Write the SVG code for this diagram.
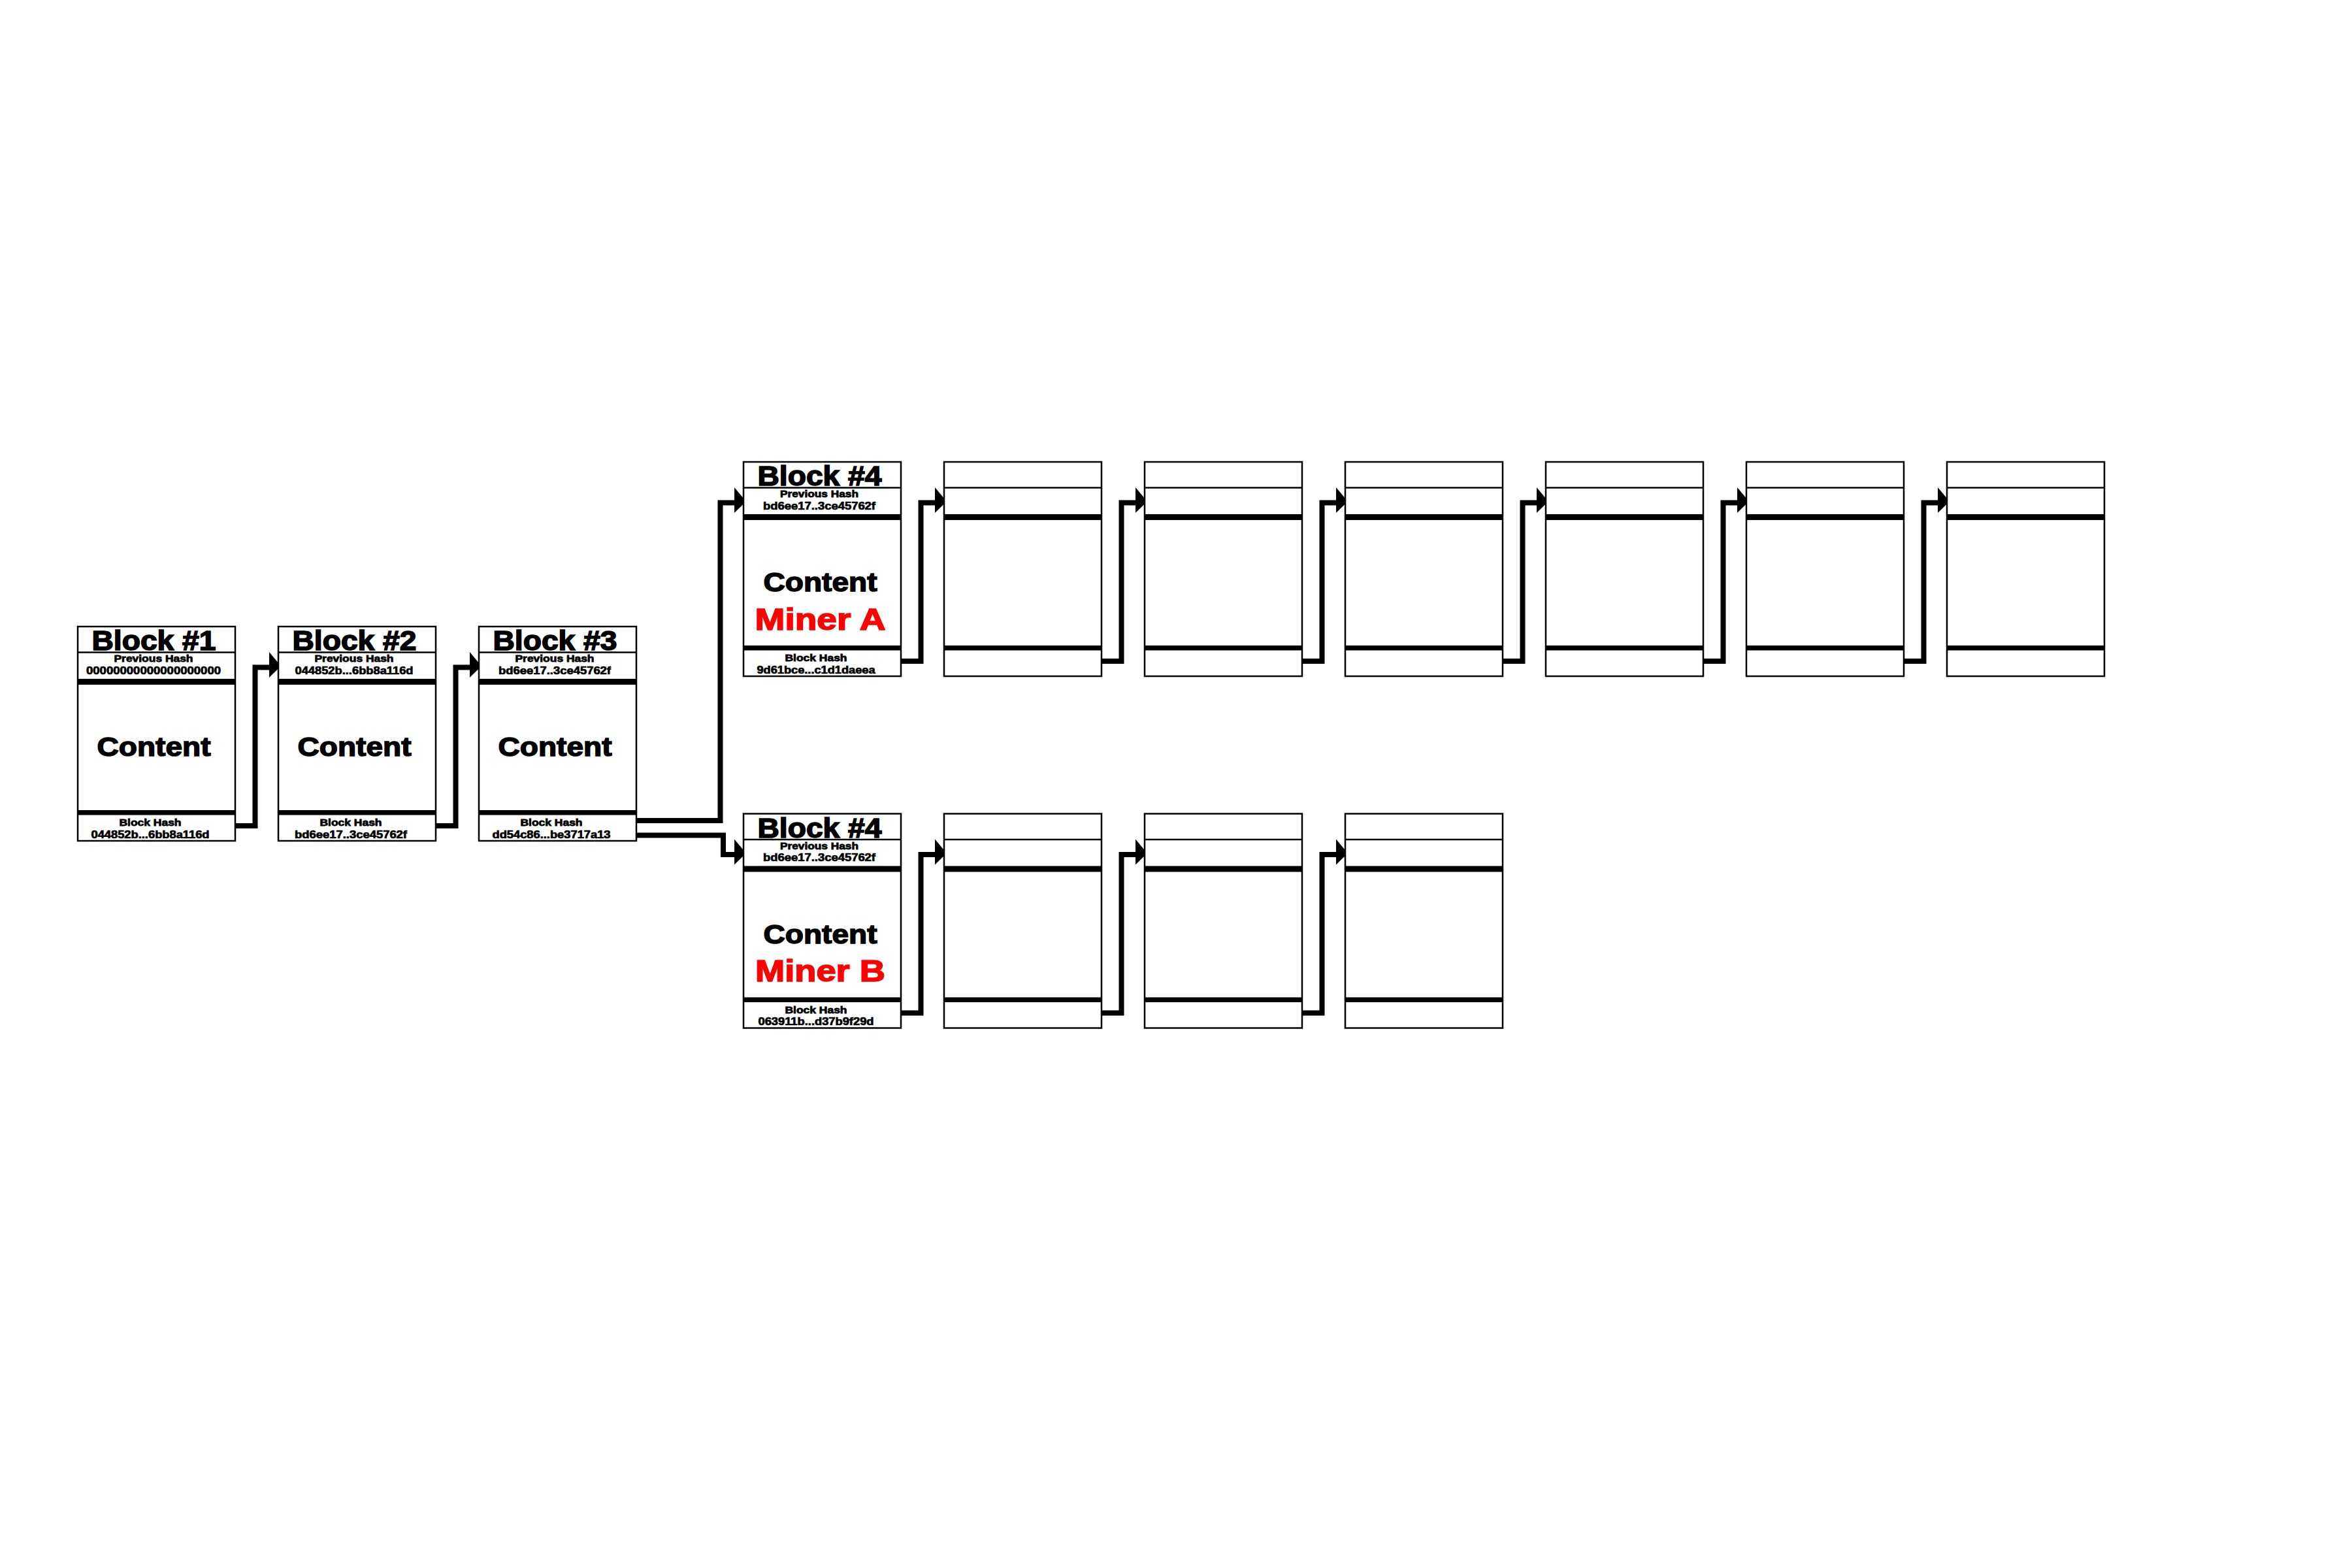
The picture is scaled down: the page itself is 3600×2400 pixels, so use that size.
<svg xmlns="http://www.w3.org/2000/svg" width="3600" height="2400" viewBox="0 0 3600 2400">
  <style>
    .frame { fill: #fff; stroke: #000; stroke-width: 2.5; }
    .sep { stroke: #000; stroke-width: 2.5; }
    .bar { fill: #000; }
    text { font-family: "Liberation Sans", Arial, sans-serif; font-weight: bold; text-anchor: middle; fill: #000; stroke: #000; }
    .title { font-size: 42px; stroke-width: 1.6; }
    .lbl { font-size: 15px; stroke-width: 0.8; }
    .hash { font-size: 16px; stroke-width: 0.7; }
    .content { font-size: 40px; stroke-width: 1.5; }
    .miner { font-size: 47px; fill: #f00; stroke: #f00; stroke-width: 1.6; }
    .link { fill: none; stroke: #000; stroke-width: 8; stroke-linejoin: miter; stroke-linecap: butt; }
  </style>
  <defs>
    <marker id="head" markerUnits="userSpaceOnUse" markerWidth="20" markerHeight="40" viewBox="0 -24 20 40" refX="0" refY="0" orient="auto" overflow="visible">
      <polygon points="0,-23.5 18,-2 0,15.5" fill="#000"/>
    </marker>
    <!-- block skeleton: frame, title divider, two heavy bars -->
    <g id="blk">
      <rect class="frame" x="0" y="0" width="241" height="328"/>
      <line class="sep" x1="0" y1="39.5" x2="241" y2="39.5"/>
      <rect class="bar" x="0" y="80" width="241" height="9"/>
      <rect class="bar" x="0" y="281" width="241" height="7.5"/>
    </g>
  </defs>
  <rect width="3600" height="2400" fill="#fff"/>

  <!-- links between blocks -->
  <g id="connectors">
    <path class="link" marker-end="url(#head)" d="M360 1264 H390.5 V1021.5 H412"/>
    <path class="link" marker-end="url(#head)" d="M667 1264 H697.5 V1021.5 H719"/>
    <!-- fork after block 3 -->
    <path class="link" marker-end="url(#head)" d="M974 1256 H1102.5 V769.5 H1124"/>
    <path class="link" marker-end="url(#head)" d="M974 1278.5 H1107 V1308 H1124"/>
    <!-- upper chain -->
    <path class="link" marker-end="url(#head)" d="M1379 1012 H1409.5 V769.5 H1431"/>
    <path class="link" marker-end="url(#head)" d="M1686 1012 H1716.5 V769.5 H1738"/>
    <path class="link" marker-end="url(#head)" d="M1993 1012 H2023.5 V769.5 H2045"/>
    <path class="link" marker-end="url(#head)" d="M2300 1012 H2330.5 V769.5 H2352"/>
    <path class="link" marker-end="url(#head)" d="M2607 1012 H2637.5 V769.5 H2659"/>
    <path class="link" marker-end="url(#head)" d="M2914 1012 H2944.5 V769.5 H2966"/>
    <!-- lower chain -->
    <path class="link" marker-end="url(#head)" d="M1379 1550.5 H1409.5 V1308 H1431"/>
    <path class="link" marker-end="url(#head)" d="M1686 1550.5 H1716.5 V1308 H1738"/>
    <path class="link" marker-end="url(#head)" d="M1993 1550.5 H2023.5 V1308 H2045"/>
  </g>

  <g id="block1" transform="translate(119 959)">
    <use href="#blk"/>
    <text class="title" x="116.5" y="36" textLength="190" lengthAdjust="spacingAndGlyphs">Block #1</text>
    <text class="lbl" x="116" y="54" textLength="121" lengthAdjust="spacingAndGlyphs">Previous Hash</text>
    <text class="hash" x="116" y="72.7" textLength="206" lengthAdjust="spacingAndGlyphs">00000000000000000000</text>
    <text class="content" x="116.5" y="198" textLength="174" lengthAdjust="spacingAndGlyphs">Content</text>
    <text class="lbl" x="111" y="305" textLength="95" lengthAdjust="spacingAndGlyphs">Block Hash</text>
    <text class="hash" x="111" y="323.5" textLength="181" lengthAdjust="spacingAndGlyphs">044852b...6bb8a116d</text>
  </g>

  <g id="block2" transform="translate(426 959)">
    <use href="#blk"/>
    <text class="title" x="116.5" y="36" textLength="190" lengthAdjust="spacingAndGlyphs">Block #2</text>
    <text class="lbl" x="116" y="54" textLength="121" lengthAdjust="spacingAndGlyphs">Previous Hash</text>
    <text class="hash" x="116" y="72.7" textLength="181" lengthAdjust="spacingAndGlyphs">044852b...6bb8a116d</text>
    <text class="content" x="116.5" y="198" textLength="174" lengthAdjust="spacingAndGlyphs">Content</text>
    <text class="lbl" x="111" y="305" textLength="95" lengthAdjust="spacingAndGlyphs">Block Hash</text>
    <text class="hash" x="111" y="323.5" textLength="172" lengthAdjust="spacingAndGlyphs">bd6ee17..3ce45762f</text>
  </g>

  <g id="block3" transform="translate(733 959)">
    <use href="#blk"/>
    <text class="title" x="116.5" y="36" textLength="190" lengthAdjust="spacingAndGlyphs">Block #3</text>
    <text class="lbl" x="116" y="54" textLength="121" lengthAdjust="spacingAndGlyphs">Previous Hash</text>
    <text class="hash" x="116" y="72.7" textLength="172" lengthAdjust="spacingAndGlyphs">bd6ee17..3ce45762f</text>
    <text class="content" x="116.5" y="198" textLength="174" lengthAdjust="spacingAndGlyphs">Content</text>
    <text class="lbl" x="111" y="305" textLength="95" lengthAdjust="spacingAndGlyphs">Block Hash</text>
    <text class="hash" x="111" y="323.5" textLength="181" lengthAdjust="spacingAndGlyphs">dd54c86...be3717a13</text>
  </g>

  <g id="block4a" transform="translate(1138 707)">
    <use href="#blk"/>
    <text class="title" x="116.5" y="36" textLength="190" lengthAdjust="spacingAndGlyphs">Block #4</text>
    <text class="lbl" x="116" y="54" textLength="120" lengthAdjust="spacingAndGlyphs">Previous Hash</text>
    <text class="hash" x="116" y="72.7" textLength="172" lengthAdjust="spacingAndGlyphs">bd6ee17..3ce45762f</text>
    <text class="content" x="117.5" y="198" textLength="174" lengthAdjust="spacingAndGlyphs">Content</text>
    <text class="miner" x="117.5" y="256.5" textLength="200" lengthAdjust="spacingAndGlyphs">Miner A</text>
    <text class="lbl" x="111" y="305" textLength="95" lengthAdjust="spacingAndGlyphs">Block Hash</text>
    <text class="hash" x="111" y="323.5" textLength="181" lengthAdjust="spacingAndGlyphs">9d61bce...c1d1daeea</text>
  </g>

  <g id="a5" transform="translate(1445 707)"><use href="#blk"/></g>
  <g id="a6" transform="translate(1752 707)"><use href="#blk"/></g>
  <g id="a7" transform="translate(2059 707)"><use href="#blk"/></g>
  <g id="a8" transform="translate(2366 707)"><use href="#blk"/></g>
  <g id="a9" transform="translate(2673 707)"><use href="#blk"/></g>
  <g id="a10" transform="translate(2980 707)"><use href="#blk"/></g>

  <g id="block4b" transform="translate(1138 1245.5)">
    <use href="#blk"/>
    <text class="title" x="116.5" y="36" textLength="190" lengthAdjust="spacingAndGlyphs">Block #4</text>
    <text class="lbl" x="116" y="54" textLength="120" lengthAdjust="spacingAndGlyphs">Previous Hash</text>
    <text class="hash" x="116" y="72.7" textLength="172" lengthAdjust="spacingAndGlyphs">bd6ee17..3ce45762f</text>
    <text class="content" x="117.5" y="198" textLength="174" lengthAdjust="spacingAndGlyphs">Content</text>
    <text class="miner" x="117.5" y="256.5" textLength="199" lengthAdjust="spacingAndGlyphs">Miner B</text>
    <text class="lbl" x="111" y="305" textLength="95" lengthAdjust="spacingAndGlyphs">Block Hash</text>
    <text class="hash" x="111" y="323.5" textLength="177" lengthAdjust="spacingAndGlyphs">063911b...d37b9f29d</text>
  </g>

  <g id="b5" transform="translate(1445 1245.5)"><use href="#blk"/></g>
  <g id="b6" transform="translate(1752 1245.5)"><use href="#blk"/></g>
  <g id="b7" transform="translate(2059 1245.5)"><use href="#blk"/></g>
</svg>
